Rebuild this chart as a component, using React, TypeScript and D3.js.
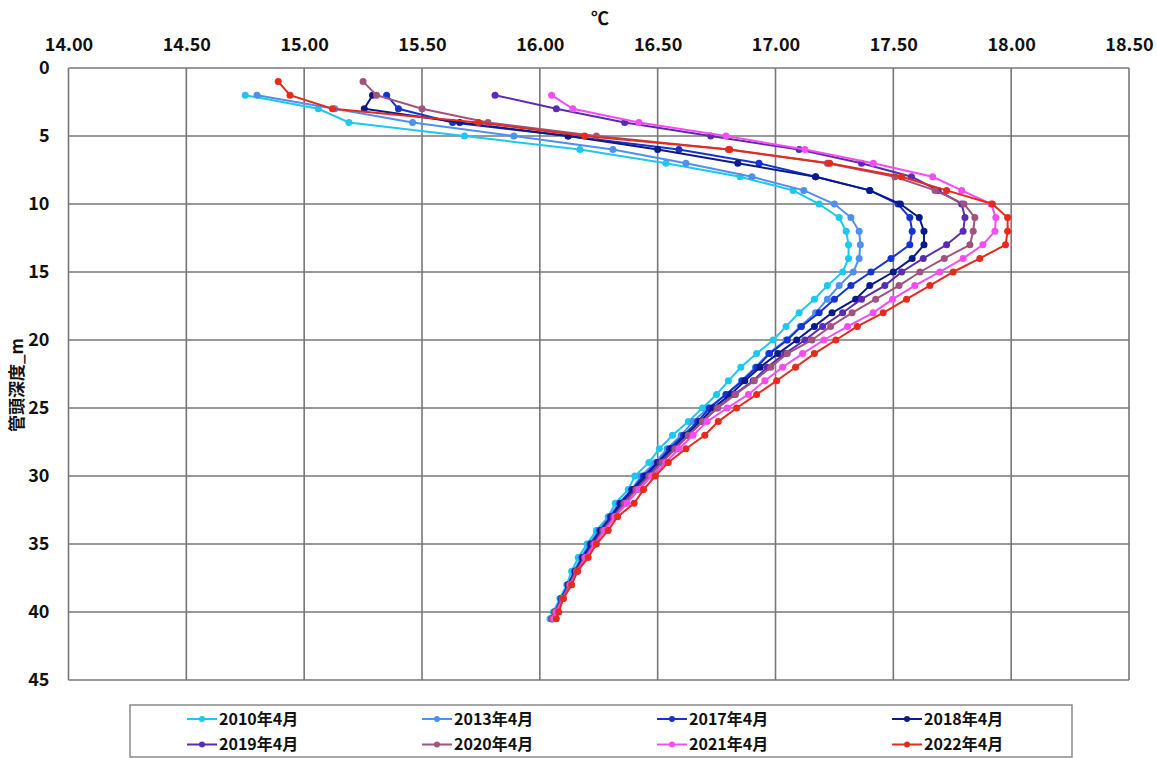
import React, { useEffect, useRef } from 'react';
import * as d3 from 'd3';

// depth (m) of each measuring point
const DEPTHS = [
  1, 2, 3, 4, 5, 6, 7, 8, 9, 10, 11, 12, 13, 14, 15, 16, 17, 18, 19, 20,
  21, 22, 23, 24, 25, 26, 27, 28, 29, 30, 31, 32, 33, 34, 35, 36, 37, 38, 39, 40, 40.5,
];

// temperature (°C) per depth, null = no reading
const T2010 = [
  null, 14.75, 15.06, 15.19, 15.68, 16.17, 16.535, 16.85, 17.075, 17.185, 17.27, 17.3, 17.31, 17.31,
  17.285, 17.22, 17.165, 17.1, 17.045, 16.99, 16.92, 16.853, 16.8, 16.75, 16.69, 16.63, 16.563,
  16.507, 16.463, 16.403, 16.375, 16.32, 16.29, 16.24, 16.2, 16.163, 16.135, 16.114, 16.085, 16.057, 16.043,
];
const T2013 = [
  null, 14.8, 15.13, 15.46, 15.89, 16.31, 16.62, 16.9, 17.12, 17.25, 17.32, 17.355, 17.36, 17.355,
  17.33, 17.27, 17.22, 17.17, 17.105, 17.045, 16.97, 16.915, 16.855, 16.79, 16.715, 16.65, 16.6,
  16.54, 16.49, 16.43, 16.39, 16.335, 16.295, 16.25, 16.21, 16.175, 16.145, 16.12, 16.09, 16.06, 16.05,
];
const T2017 = [
  null, 15.35, 15.4, 15.63, 16.12, 16.59, 16.93, 17.17, 17.4, 17.52, 17.57, 17.58, 17.57, 17.49,
  17.405, 17.32, 17.25, 17.185, 17.11, 17.05, 16.975, 16.92, 16.86, 16.79, 16.72, 16.67, 16.61,
  16.55, 16.5, 16.44, 16.39, 16.34, 16.3, 16.255, 16.215, 16.18, 16.15, 16.12, 16.09, 16.065, 16.05,
];
const T2018 = [
  null, 15.29, 15.255, 15.66, 16.12, 16.5, 16.84, 17.17, 17.4, 17.53, 17.61, 17.63, 17.63, 17.58,
  17.5, 17.4, 17.34, 17.24, 17.165, 17.09, 17.01, 16.935, 16.87, 16.81, 16.735, 16.68, 16.62,
  16.56, 16.5, 16.45, 16.395, 16.345, 16.305, 16.26, 16.22, 16.185, 16.15, 16.12, 16.095, 16.065, 16.055,
];
const T2019 = [
  null, 15.81, 16.07, 16.36, 16.725, 17.1, 17.365, 17.577, 17.69, 17.79, 17.804, 17.796, 17.726, 17.627,
  17.535, 17.464, 17.365, 17.285, 17.2, 17.125, 17.04, 16.965, 16.905, 16.825, 16.75, 16.69, 16.63,
  16.57, 16.51, 16.46, 16.405, 16.355, 16.31, 16.265, 16.225, 16.19, 16.155, 16.125, 16.095, 16.065, 16.055,
];
const T2020 = [
  15.25, 15.307, 15.5, 15.78, 16.24, 16.8, 17.22, 17.507, 17.677, 17.8, 17.846, 17.839, 17.825, 17.716,
  17.613, 17.524, 17.425, 17.325, 17.234, 17.155, 17.05, 16.98, 16.91, 16.83, 16.755, 16.69, 16.63,
  16.575, 16.52, 16.465, 16.41, 16.36, 16.315, 16.27, 16.23, 16.19, 16.155, 16.125, 16.095, 16.065, 16.05,
];
const T2021 = [
  null, 16.05, 16.14, 16.42, 16.79, 17.125, 17.415, 17.667, 17.79, 17.915, 17.935, 17.931, 17.88, 17.796,
  17.697, 17.591, 17.497, 17.414, 17.306, 17.205, 17.115, 17.03, 16.955, 16.885, 16.795, 16.71, 16.65,
  16.59, 16.535, 16.475, 16.42, 16.37, 16.32, 16.275, 16.235, 16.195, 16.16, 16.13, 16.1, 16.07, 16.06,
];
const T2022 = [
  14.89, 14.94, 15.12, 15.74, 16.19, 16.806, 17.23, 17.535, 17.726, 17.92, 17.985, 17.985, 17.976, 17.867,
  17.754, 17.655, 17.556, 17.457, 17.347, 17.256, 17.165, 17.085, 17.005, 16.92, 16.835, 16.757, 16.7,
  16.62, 16.545, 16.49, 16.44, 16.4, 16.33, 16.29, 16.24, 16.205, 16.16, 16.135, 16.1, 16.08, 16.07,
];

const SERIES_NAMES = ['2010年4月', '2013年4月', '2017年4月', '2018年4月', '2019年4月', '2020年4月', '2021年4月', '2022年4月'];
const SERIES_VALUES = [T2010, T2013, T2017, T2018, T2019, T2020, T2021, T2022];
const SERIES_COLORS = ['#1cc8f0', '#4f8ff2', '#1533d0', '#0b1a8a', '#5a2cb0', '#a2527f', '#f54cf5', '#e62a1c'];

const X_TICKS = [14, 14.5, 15, 15.5, 16, 16.5, 17, 17.5, 18, 18.5];
const Y_TICKS = [0, 5, 10, 15, 20, 25, 30, 35, 40, 45];

const FONT = '"Noto Sans CJK JP", "Noto Sans", sans-serif';

const App = () => {
  const ref = useRef<SVGSVGElement>(null);

  const width = 1157, height = 758;
  const left = 68.5, right = 1129, top = 68, bottom = 680;

  useEffect(() => {
    const svg = d3.select(ref.current);
    svg.selectAll('*').remove();

    const x = d3.scaleLinear().domain([14, 18.5]).range([left, right]);
    const y = d3.scaleLinear().domain([0, 45]).range([top, bottom]);

    svg.append('rect').attr('width', width).attr('height', height).attr('fill', '#fff');

    // grid
    const grid = svg.append('g').attr('stroke', '#777').attr('stroke-width', 1.6);
    grid.selectAll('line.v').data(X_TICKS).join('line')
      .attr('class', 'v')
      .attr('x1', d => x(d)).attr('x2', d => x(d))
      .attr('y1', top).attr('y2', bottom);
    grid.selectAll('line.h').data(Y_TICKS).join('line')
      .attr('class', 'h')
      .attr('x1', left).attr('x2', right)
      .attr('y1', d => y(d)).attr('y2', d => y(d));

    // top axis labels
    svg.append('g')
      .attr('transform', `translate(0,${top - 14})`)
      .call(d3.axisTop(x).tickValues(X_TICKS).tickFormat(d3.format('.2f')).tickSize(0))
      .call(g => {
        g.select('.domain').remove();
        g.selectAll('.tick text')
          .attr('font-family', FONT).attr('font-size', 18).attr('font-weight', 'bold').attr('fill', '#111');
      });

    // left axis labels
    svg.append('g')
      .attr('transform', `translate(${left - 16},0)`)
      .call(d3.axisLeft(y).tickValues(Y_TICKS).tickFormat(d3.format('d')).tickSize(0))
      .call(g => {
        g.select('.domain').remove();
        g.selectAll('.tick text')
          .attr('font-family', FONT).attr('font-size', 18).attr('font-weight', 'bold').attr('fill', '#111');
      });

    // titles
    svg.append('text')
      .attr('x', 600).attr('y', 25)
      .attr('text-anchor', 'middle')
      .attr('font-family', FONT).attr('font-size', 18).attr('font-weight', 'bold').attr('fill', '#111')
      .text('℃');

    svg.append('text')
      .attr('transform', `translate(23,385) rotate(-90)`)
      .attr('text-anchor', 'middle')
      .attr('font-family', FONT).attr('font-size', 17).attr('font-weight', 'bold').attr('fill', '#111')
      .text('管頭深度_m');

    // series
    const line = d3.line<[number, number]>()
      .x(d => x(d[0]))
      .y(d => y(d[1]));

    SERIES_VALUES.forEach((vals, i) => {
      const pts = vals
        .map((v, j) => [v, DEPTHS[j]] as [number | null, number])
        .filter(p => p[0] !== null) as [number, number][];
      const g = svg.append('g');
      g.append('path')
        .attr('d', line(pts))
        .attr('fill', 'none')
        .attr('stroke', SERIES_COLORS[i])
        .attr('stroke-width', 2);
      g.selectAll('circle').data(pts).join('circle')
        .attr('cx', d => x(d[0]))
        .attr('cy', d => y(d[1]))
        .attr('r', 3.5)
        .attr('fill', SERIES_COLORS[i]);
    });

    // legend
    const legend = svg.append('g');
    legend.append('rect')
      .attr('x', 130).attr('y', 705).attr('width', 942).attr('height', 52)
      .attr('fill', '#fff').attr('stroke', '#8a8a8a').attr('stroke-width', 1.5);

    SERIES_NAMES.forEach((name, i) => {
      const col = i % 4, row = Math.floor(i / 4);
      const lx = 187 + col * 235, ly = 719 + row * 25.5;
      const item = legend.append('g').attr('transform', `translate(${lx},${ly})`);
      item.append('line')
        .attr('x1', 0).attr('x2', 30).attr('y1', 0).attr('y2', 0)
        .attr('stroke', SERIES_COLORS[i]).attr('stroke-width', 2);
      item.append('circle').attr('cx', 15).attr('cy', 0).attr('r', 3).attr('fill', SERIES_COLORS[i]);
      item.append('text')
        .attr('x', 32).attr('y', 0).attr('dy', '0.35em')
        .attr('font-family', FONT).attr('font-size', 16).attr('font-weight', 'bold').attr('fill', '#111')
        .text(name);
    });
  }, []);

  return (
    <div style={{ position: 'absolute', left: 0, top: 0 }}>
      <svg ref={ref} width={width} height={height} style={{ display: 'block' }} />
    </div>
  );
};

export default App;
